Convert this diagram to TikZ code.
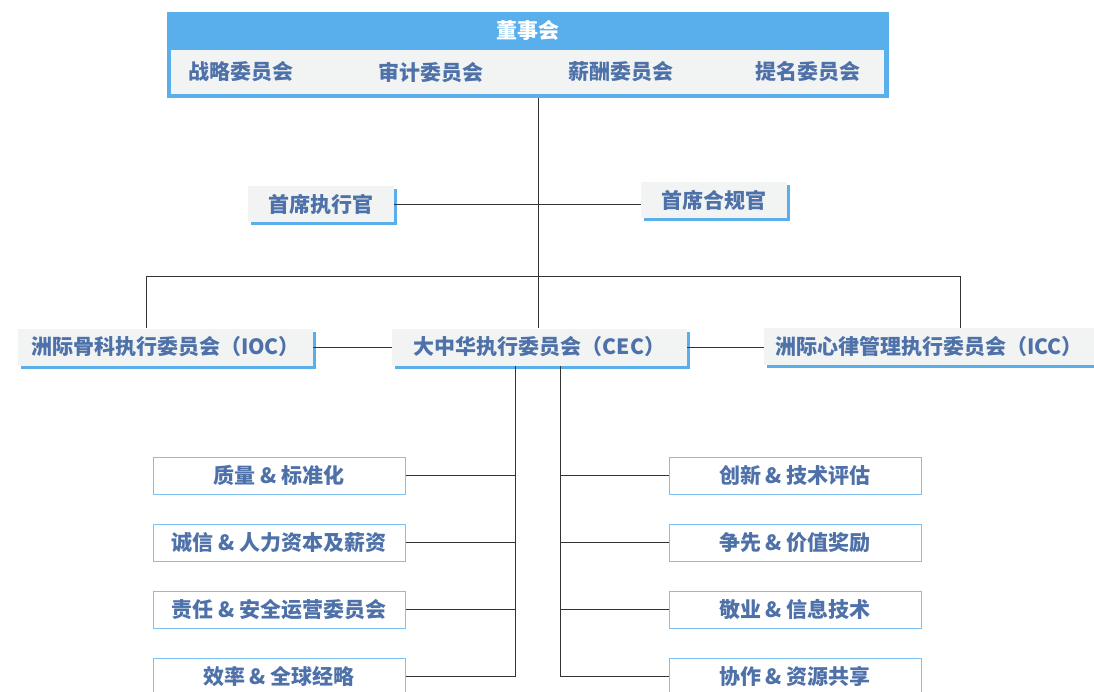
\documentclass[tikz,border=0pt]{standalone}
\usepackage{fontspec}
\setmainfont{Noto Sans CJK SC}
\usetikzlibrary{shadows}
\definecolor{bblue}{HTML}{58AFEC}
\definecolor{tblue}{HTML}{4D71A8}
\definecolor{gfill}{HTML}{F2F4F4}
\definecolor{lblue}{HTML}{80C0F0}
\definecolor{lcol}{HTML}{333333}
\begin{document}
\begin{tikzpicture}[x=1pt,y=-1pt,
  txt/.style={text=tblue,font=\fontsize{21}{24}\selectfont\bfseries,inner sep=0pt},
  sbox/.style={txt,fill=gfill,draw=none,inner sep=0pt,
    drop shadow={shadow xshift=3pt,shadow yshift=-3pt,fill=bblue,opacity=1}},
  lbox/.style={txt,fill=white,draw=lblue,line width=1pt,minimum width=252pt,minimum height=37pt},
  conn/.style={draw=lcol,line width=0.8pt}]
\useasboundingbox (0,0) rectangle (1094,691);
% board
\node[fill=bblue,minimum width=722pt,minimum height=86pt,inner sep=0pt] (board) at (528,55) {};
\node[fill=gfill,minimum width=713pt,minimum height=44pt,inner sep=0pt] (panel) at (527.5,72) {};
\node[txt,text=white] (hdr) at (528,30) {董事会};
\node[txt] (c1) at (241,72) {战略委员会};
\node[txt] (c2) at (431,72) {审计委员会};
\node[txt] (c3) at (621,72) {薪酬委员会};
\node[txt] (c4) at (808,72) {提名委员会};
% officers
\node[sbox,minimum width=146pt,minimum height=36pt] (ceo) at (321,204) {首席执行官};
\node[sbox,minimum width=146pt,minimum height=36pt] (cco) at (714,200) {首席合规官};
% executive committees
\node[sbox,minimum width=295pt,minimum height=37pt] (ioc) at (165.5,347) {洲际骨科执行委员会（IOC）};
\node[sbox,minimum width=295pt,minimum height=37pt] (cec) at (539.5,347) {大中华执行委员会（CEC）};
\node[sbox,minimum width=330pt,minimum height=37pt,text width=330pt,align=center] (icc) at (929,346.5) {洲际心律管理执行委员会（ICC）};
% sub-committees
\node[lbox] (l1) at (279,475.5) {质量 \& 标准化};
\node[lbox] (l2) at (279,542.5) {诚信 \& 人力资本及薪资};
\node[lbox] (l3) at (279,609.5) {责任 \& 安全运营委员会};
\node[lbox] (l4) at (279,676.5) {效率 \& 全球经略};
\node[lbox] (r1) at (795,475.5) {创新 \& 技术评估};
\node[lbox] (r2) at (795,542.5) {争先 \& 价值奖励};
\node[lbox] (r3) at (795,609.5) {敬业 \& 信息技术};
\node[lbox] (r4) at (795,676.5) {协作 \& 资源共享};
% coordinates
\coordinate (hub) at (538,276);
\coordinate (lt) at (146,276);
\coordinate (rt) at (960,276);
\coordinate (busL) at (515,677);
\coordinate (busR) at (560,677);
% connectors
\draw[conn] (board.south -| hub) -- (hub);
\draw[conn] (hub) -- (hub |- cec.north);
\draw[conn] (lt) -- (rt);
\draw[conn] (lt) -- (lt |- ioc.north);
\draw[conn] (rt) -- (rt |- icc.north);
\draw[conn] (ceo.east) -- (ceo.east -| cco.west);
\draw[conn] (ioc.east) -- (cec.west);
\draw[conn] (cec.east) -- (cec.east -| icc.west);
\draw[conn] (cec.south -| busL) -- (busL);
\draw[conn] (cec.south -| busR) -- (busR);
\draw[conn] (l1.east) -- (l1.east -| busL);
\draw[conn] (l2.east) -- (l2.east -| busL);
\draw[conn] (l3.east) -- (l3.east -| busL);
\draw[conn] (l4.east) -- (l4.east -| busL);
\draw[conn] (r1.west) -- (r1.west -| busR);
\draw[conn] (r2.west) -- (r2.west -| busR);
\draw[conn] (r3.west) -- (r3.west -| busR);
\draw[conn] (r4.west) -- (r4.west -| busR);
\end{tikzpicture}
\end{document}
